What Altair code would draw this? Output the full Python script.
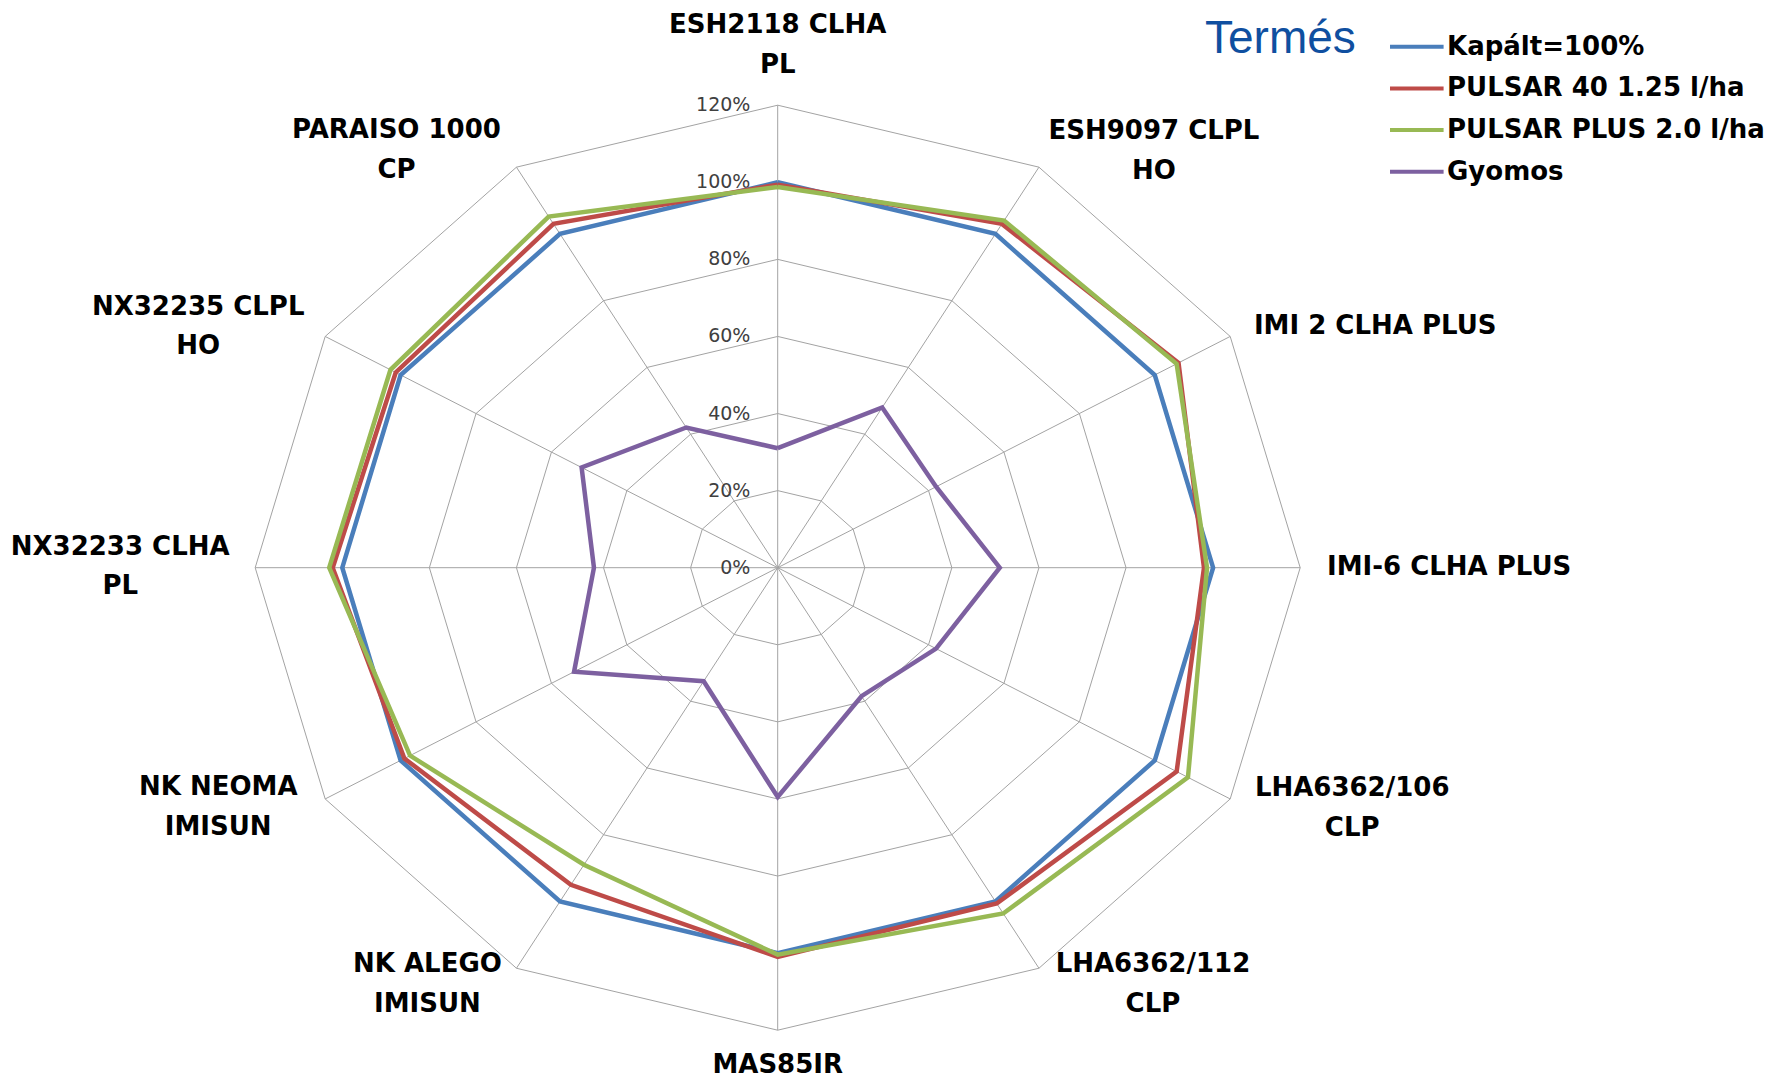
import math
import altair as alt
import pandas as pd

# ---------------- data ----------------
CATEGORIES = [
    "ESH2118 CLHA\nPL", "ESH9097 CLPL\nHO", "IMI 2 CLHA PLUS", "IMI-6 CLHA PLUS",
    "LHA6362/106\nCLP", "LHA6362/112\nCLP", "MAS85IR", "NK ALEGO\nIMISUN",
    "NK NEOMA\nIMISUN", "NX32233 CLHA\nPL", "NX32235 CLPL\nHO", "PARAISO 1000\nCP",
]
SERIES = ["Kapált=100%", "PULSAR 40 1.25 l/ha", "PULSAR PLUS 2.0 l/ha", "Gyomos"]
KAPALT = [100, 100, 100, 100, 100, 100, 100, 100, 100, 100, 100, 100]
PULSAR40 = [99.4, 103.0, 106.3, 97.9, 105.8, 100.6, 101.0, 95.0, 99.0, 102.2, 101.3, 103.0]
PULSARPLUS = [98.8, 104.0, 105.8, 98.6, 108.8, 103.6, 100.4, 89.0, 97.5, 103.0, 102.7, 105.2]
GYOMOS = [31.0, 48.0, 42.0, 51.0, 42.0, 38.5, 59.5, 34.0, 54.0, 42.2, 52.0, 42.0]
TICKS = [0, 20, 40, 60, 80, 100, 120]
TICK_LABELS = ["0%", "20%", "40%", "60%", "80%", "100%", "120%"]
LEGEND_TITLE = "Termés"

# ---------------- style / layout ----------------
COLORS = ["#4A7EBB", "#BE4B48", "#98B954", "#7D60A0"]
GRID = "#a3a3a3"
W, H = 1763, 1073
CX, CY = 769.7, 559.7          # centre of the radar inside the plot area (px)
RX, RY = 522.5, 462.5          # pixel radius of the 120 % ring (horizontal / vertical)
RMAX = 120
PXU_X, PXU_Y = RX / RMAX, RY / RMAX
XMIN, XMAX = -CX / PXU_X, (W - CX) / PXU_X
YMIN, YMAX = -(H - CY) / PXU_Y, CY / PXU_Y
LINE_H = 39.5

# label block centre offsets from the 120 % vertex (px)
LABEL_OFFSETS = [(0, -60), (115, -16), (145, -10), (149, -1), (122, 9), (114, 16),
                 (0, 35), (-89, 16), (-107, 8), (-135, -1), (-127, -10), (-120, -17)]

N = len(CATEGORIES)
ANG = f"datum.idx * 2 * PI / {N}"

xs = alt.Scale(domain=[XMIN, XMAX], nice=False, zero=False)
ys = alt.Scale(domain=[YMIN, YMAX], nice=False, zero=False)


def X(f):
    return alt.X(f, type="quantitative", scale=xs, axis=None)


def Y(f):
    return alt.Y(f, type="quantitative", scale=ys, axis=None)


def ux(px):
    return (px - CX) / PXU_X


def uy(py):
    return (CY - py) / PXU_Y


# grid rings
ring_rows = [{"r": r, "idx": i} for r in TICKS[1:] for i in range(N + 1)]
rings = alt.Chart(pd.DataFrame(ring_rows)).transform_calculate(
    px=f"datum.r * sin({ANG})", py=f"datum.r * cos({ANG})"
).mark_line(color=GRID, strokeWidth=1).encode(
    x=X("px"), y=Y("py"), detail="r:Q", order="idx:Q"
)

# spokes
spokes = alt.Chart(pd.DataFrame({"idx": list(range(N))})).transform_calculate(
    x0="0", y0="0", ex=f"{RMAX} * sin({ANG})", ey=f"{RMAX} * cos({ANG})"
).mark_rule(color=GRID, strokeWidth=1).encode(
    x=X("x0"), y=Y("y0"), x2="ex:Q", y2="ey:Q"
)

# tick labels
ticks = alt.Chart(pd.DataFrame({"v": TICKS, "label": TICK_LABELS})).transform_calculate(
    tx=str(ux(CX - 27.3))
).mark_text(align="right", baseline="middle", font="DejaVu Sans", fontSize=19,
            color="#404040").encode(x=X("tx"), y=Y("v"), text="label:N")

# series lines
series_layers = []
for name, vals in zip(SERIES, [KAPALT, PULSAR40, PULSARPLUS, GYOMOS]):
    df = pd.DataFrame({"series": name, "idx": list(range(N + 1)),
                       "value": [vals[i % N] for i in range(N + 1)]})
    series_layers.append(
        alt.Chart(df).transform_calculate(
            px=f"datum.value * sin({ANG})", py=f"datum.value * cos({ANG})"
        ).mark_line(strokeWidth=4.5).encode(
            x=X("px"), y=Y("py"), order="idx:Q",
            color=alt.Color("series:N", scale=alt.Scale(domain=SERIES, range=COLORS), legend=None),
        )
    )

# category labels (multi-line blocks centred on their anchor)
cat_df = pd.DataFrame({
    "name": CATEGORIES, "idx": list(range(N)),
    "ox": [o[0] for o in LABEL_OFFSETS], "oy": [o[1] for o in LABEL_OFFSETS],
})
cats = alt.Chart(cat_df).transform_calculate(
    nl="length(split(datum.name, '\\n'))",
).transform_calculate(
    lx=f"{RMAX} * sin({ANG}) + datum.ox / {PXU_X}",
    ly=f"{RMAX} * cos({ANG}) - (datum.oy - (datum.nl - 1) * {LINE_H} / 2) / {PXU_Y}",
).mark_text(align="center", baseline="middle", font="DejaVu Sans", fontWeight="bold",
            fontSize=26, lineBreak="\n", lineHeight=LINE_H, color="#000000").encode(
    x=X("lx"), y=Y("ly"), text="name:N"
)

# legend (drawn by hand to match the original layout)
LEG_X0, LEG_X1, LEG_TX = 1382.0, 1435.6, 1439.0
LEG_Y0, LEG_DY = 38.7, 41.7
leg_df = pd.DataFrame({"series": SERIES, "row": list(range(len(SERIES)))})
leg_base = alt.Chart(leg_df).transform_calculate(
    a=str(ux(LEG_X0)), b=str(ux(LEG_X1)), t=str(ux(LEG_TX)),
    ly=f"{CY / PXU_Y} - ({LEG_Y0} + datum.row * {LEG_DY}) / {PXU_Y}",
)
leg_lines = leg_base.mark_rule(strokeWidth=4).encode(
    x=X("a"), x2="b:Q", y=Y("ly"),
    color=alt.Color("series:N", scale=alt.Scale(domain=SERIES, range=COLORS), legend=None),
)
leg_text = leg_base.mark_text(align="left", baseline="middle", font="DejaVu Sans",
                              fontWeight="bold", fontSize=26, color="#000000").encode(
    x=X("t"), y=Y("ly"), text="series:N"
)
title = alt.Chart(pd.DataFrame({"t": [LEGEND_TITLE]})).transform_calculate(
    tx=str(ux(1197.0)), ty=str(uy(45.3))
).mark_text(align="left", baseline="alphabetic", font="Liberation Sans", fontSize=46,
            color="#0F4FA0").encode(x=X("tx"), y=Y("ty"), text="t:N")

chart = alt.layer(rings, spokes, ticks, *series_layers, cats, leg_lines, leg_text, title).properties(
    width=W, height=H, autosize=alt.AutoSizeParams(type="none"), padding=0
).configure_view(stroke=None)

chart.save("out.html", embed_options={"renderer": "svg", "actions": False})
